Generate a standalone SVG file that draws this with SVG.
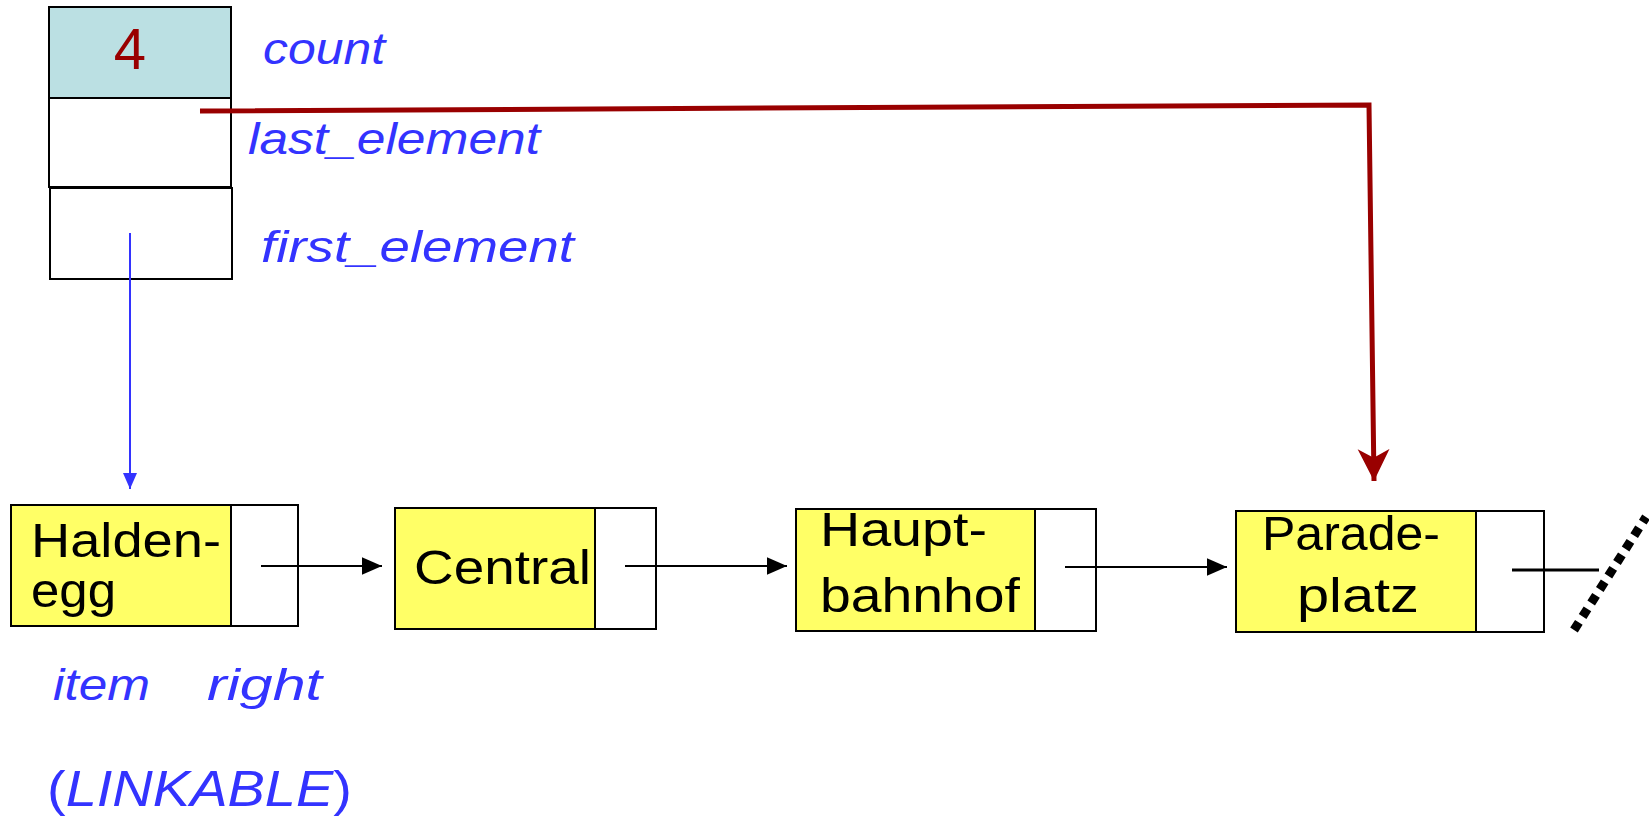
<svg xmlns="http://www.w3.org/2000/svg" width="1649" height="817" viewBox="0 0 1649 817">
<style>
.box{stroke:#000;stroke-width:2;fill:#fff}
.item{stroke:#000;stroke-width:2;fill:#ffff66}
.cnt{stroke:#000;stroke-width:2;fill:#bbe0e3}
.lbl{font-family:"Liberation Sans",Arial,sans-serif;font-style:italic;fill:#3333ff;font-size:44px}
.nm{font-family:"Liberation Sans",Arial,sans-serif;fill:#000;font-size:48px}
.blk{stroke:#000;stroke-width:2;fill:none}
</style>
<defs>
<marker id="ah" markerUnits="userSpaceOnUse" markerWidth="20" markerHeight="20" refX="16" refY="8" orient="auto" viewBox="0 0 16 16"><path d="M0,1 L16,8 L0,15 Z" fill="#000"/></marker>
<marker id="ahb" markerUnits="userSpaceOnUse" markerWidth="16" markerHeight="16" refX="16" refY="7" orient="auto" viewBox="0 0 16 14"><path d="M0,0 L16,7 L0,14 Z" fill="#3333ff"/></marker>
<marker id="ahr" markerUnits="userSpaceOnUse" markerWidth="34" markerHeight="34" refX="30" refY="16" orient="auto" viewBox="0 0 32 32"><path d="M30,16 L0,1 L8,16 L0,31 Z" fill="#990000"/></marker>
</defs>

<g id="list-header">
<rect class="cnt" x="49" y="7" width="182" height="91"/>
<rect class="box" x="49" y="98" width="182" height="89"/>
<rect class="box" x="50" y="188" width="182" height="91"/>
<text x="130" y="69" text-anchor="middle" font-family="Liberation Sans,Arial,sans-serif" font-size="58" fill="#990000">4</text>
</g>
<g id="header-labels">
<text class="lbl" x="263" y="64" textLength="122" lengthAdjust="spacingAndGlyphs">count</text>
<text class="lbl" x="248" y="154" textLength="292" lengthAdjust="spacingAndGlyphs">last_element</text>
<text class="lbl" x="261" y="262" textLength="313" lengthAdjust="spacingAndGlyphs">first_element</text>
</g>

<g id="node-haldenegg">
<rect class="item" x="11" y="505" width="220" height="121"/>
<rect class="box" x="231" y="505" width="67" height="121"/>
<text class="nm" x="31" y="557" font-size="44" textLength="190" lengthAdjust="spacingAndGlyphs">Halden-</text>
<text class="nm" x="31" y="607" font-size="44" textLength="85" lengthAdjust="spacingAndGlyphs">egg</text>
</g>
<g id="node-central">
<rect class="item" x="395" y="508" width="200" height="121"/>
<rect class="box" x="595" y="508" width="61" height="121"/>
<text class="nm" x="414" y="584" textLength="177" lengthAdjust="spacingAndGlyphs">Central</text>
</g>
<g id="node-hauptbahnhof">
<rect class="item" x="796" y="509" width="239" height="122"/>
<rect class="box" x="1035" y="509" width="61" height="122"/>
<text class="nm" x="820" y="546" textLength="167" lengthAdjust="spacingAndGlyphs">Haupt-</text>
<text class="nm" x="820" y="612" textLength="200" lengthAdjust="spacingAndGlyphs">bahnhof</text>
</g>
<g id="node-paradeplatz">
<rect class="item" x="1236" y="511" width="240" height="121"/>
<rect class="box" x="1476" y="511" width="68" height="121"/>
<text class="nm" x="1262" y="550" textLength="178" lengthAdjust="spacingAndGlyphs">Parade-</text>
<text class="nm" x="1297" y="612" textLength="122" lengthAdjust="spacingAndGlyphs">platz</text>
</g>

<g id="linkable-labels">
<text class="lbl" x="53" y="700" textLength="97" lengthAdjust="spacingAndGlyphs">item</text>
<text class="lbl" x="207" y="700" textLength="115" lengthAdjust="spacingAndGlyphs">right</text>
<text x="47" y="806" font-family="Liberation Sans,Arial,sans-serif" font-size="50" fill="#3333ff" textLength="305" lengthAdjust="spacingAndGlyphs"><tspan>(</tspan><tspan font-style="italic">LINKABLE</tspan><tspan>)</tspan></text>
</g>

<g id="connectors">
<line x1="130" y1="233" x2="130" y2="489" stroke="#3333ff" stroke-width="2" marker-end="url(#ahb)"/>
<polyline points="200,111 1369,105 1374,481" fill="none" stroke="#990000" stroke-width="5" marker-end="url(#ahr)"/>
<line class="blk" x1="261" y1="566" x2="382" y2="566" marker-end="url(#ah)"/>
<line class="blk" x1="625" y1="566" x2="787" y2="566" marker-end="url(#ah)"/>
<line class="blk" x1="1065" y1="567" x2="1227" y2="567" marker-end="url(#ah)"/>
<line x1="1512" y1="570" x2="1599" y2="570" stroke="#000" stroke-width="3"/>
<line x1="1574" y1="630" x2="1646" y2="517" stroke="#000" stroke-width="9" stroke-dasharray="9 7"/>
</g>
</svg>
